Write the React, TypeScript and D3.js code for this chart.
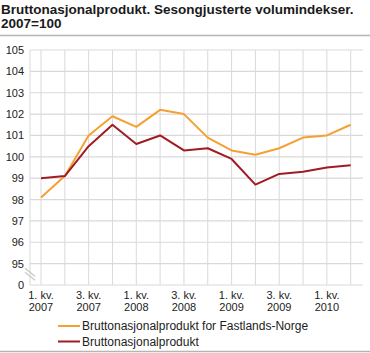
import React, { useRef, useEffect } from 'react';
import { select, scaleLinear, scalePoint, line } from 'd3';

const quarters = [
  '2007K1', '2007K2', '2007K3', '2007K4',
  '2008K1', '2008K2', '2008K3', '2008K4',
  '2009K1', '2009K2', '2009K3', '2009K4',
  '2010K1', '2010K2',
];
const fastlandsNorge = [98.1, 99.1, 101.0, 101.9, 101.4, 102.2, 102.0, 100.9, 100.3, 100.1, 100.4, 100.9, 101.0, 101.5];
const bnp = [99.0, 99.1, 100.5, 101.5, 100.6, 101.0, 100.3, 100.4, 99.9, 98.7, 99.2, 99.3, 99.5, 99.6];
const yTicks = [94, 95, 96, 97, 98, 99, 100, 101, 102, 103, 104, 105];
const yTickLabels = ['0', '95', '96', '97', '98', '99', '100', '101', '102', '103', '104', '105'];
const seriesNames = ['Bruttonasjonalprodukt for Fastlands-Norge', 'Bruttonasjonalprodukt'];
const seriesColors = ['#f5a032', '#a01c24'];

const W = 370;
const H = 353;
const FONT = '"Liberation Sans", Arial, sans-serif';

const App = () => {
  const svgRef = useRef(null);

  useEffect(() => {
    const svg = select(svgRef.current);
    svg.selectAll('*').remove();

    const x = scalePoint().domain(quarters).range([41, 350.7]);
    const y = scaleLinear().domain([94, 105]).range([285, 50]);
    const left = 30;
    const right = 363;

    // title
    const title = svg.append('text')
      .attr('font-family', FONT)
      .attr('font-size', 13.5)
      .attr('font-weight', 'bold')
      .attr('fill', '#1a1a1a');
    title.append('tspan').attr('x', 1).attr('y', 14).text('Bruttonasjonalprodukt. Sesongjusterte volumindekser.');
    title.append('tspan').attr('x', 1).attr('y', 28).text('2007=100');

    svg.append('line').attr('x1', 0).attr('x2', W).attr('y1', 35.5).attr('y2', 35.5)
      .attr('stroke', '#b5b5b5').attr('stroke-width', 1.5);
    svg.append('line').attr('x1', 0).attr('x2', W).attr('y1', 351.5).attr('y2', 351.5)
      .attr('stroke', '#b5b5b5').attr('stroke-width', 1.5);

    // grid
    const grid = svg.append('g');
    grid.selectAll('.hgrid')
      .data(yTicks)
      .join('line')
      .attr('x1', left).attr('x2', right)
      .attr('y1', (d) => y(d)).attr('y2', (d) => y(d))
      .attr('stroke', '#d9d9d9').attr('stroke-width', 1.2);
    grid.selectAll('.vgrid')
      .data(quarters)
      .join('line')
      .attr('x1', (d) => x(d)).attr('x2', (d) => x(d))
      .attr('y1', y(105)).attr('y2', y(94))
      .attr('stroke', '#d9d9d9').attr('stroke-width', 1);
    grid.append('line').attr('x1', left).attr('x2', left).attr('y1', y(105)).attr('y2', y(94))
      .attr('stroke', '#d9d9d9');

    // axis break
    const breakY = (y(94) + y(95)) / 2;
    [-2, 2].forEach((o) => {
      svg.append('line')
        .attr('x1', left - 5).attr('y1', breakY - 4 + o)
        .attr('x2', left + 5).attr('y2', breakY + 4 + o)
        .attr('stroke', '#c8c8c8').attr('stroke-width', 1.2);
    });

    // y labels
    svg.selectAll('.ylab')
      .data(yTicks)
      .join('text')
      .attr('x', 24)
      .attr('y', (d) => y(d) + 4)
      .attr('text-anchor', 'end')
      .attr('font-family', FONT)
      .attr('font-size', 11)
      .attr('fill', '#222')
      .text((d, i) => yTickLabels[i]);

    // x labels
    const xl = svg.selectAll('.xlab')
      .data(quarters.filter((q, i) => i % 2 === 0))
      .join('text')
      .attr('text-anchor', 'middle')
      .attr('font-family', FONT)
      .attr('font-size', 11)
      .attr('fill', '#222');
    xl.append('tspan').attr('x', (d) => x(d)).attr('y', 299)
      .text((d) => `${d.slice(5)}. kv.`);
    xl.append('tspan').attr('x', (d) => x(d)).attr('y', 311)
      .text((d) => d.slice(0, 4));

    // lines
    const lineGen = line<number>()
      .x((d, i) => x(quarters[i]) as number)
      .y((d) => y(d));
    [fastlandsNorge, bnp].forEach((s, i) => {
      svg.append('path')
        .attr('d', lineGen(s))
        .attr('fill', 'none')
        .attr('stroke', seriesColors[i])
        .attr('stroke-width', 2)
        .attr('stroke-linejoin', 'round');
    });

    // legend
    seriesNames.forEach((name, i) => {
      const ly = 326 + i * 15.5;
      svg.append('line').attr('x1', 58).attr('x2', 80).attr('y1', ly).attr('y2', ly)
        .attr('stroke', seriesColors[i]).attr('stroke-width', 2);
      svg.append('text')
        .attr('x', 82).attr('y', ly + 4)
        .attr('font-family', FONT).attr('font-size', 12).attr('fill', '#222')
        .text(name);
    });
  }, []);

  return (
    <svg ref={svgRef} width={W} height={H} style={{ position: 'absolute', left: 0, top: 0 }} />
  );
};

export default App;
